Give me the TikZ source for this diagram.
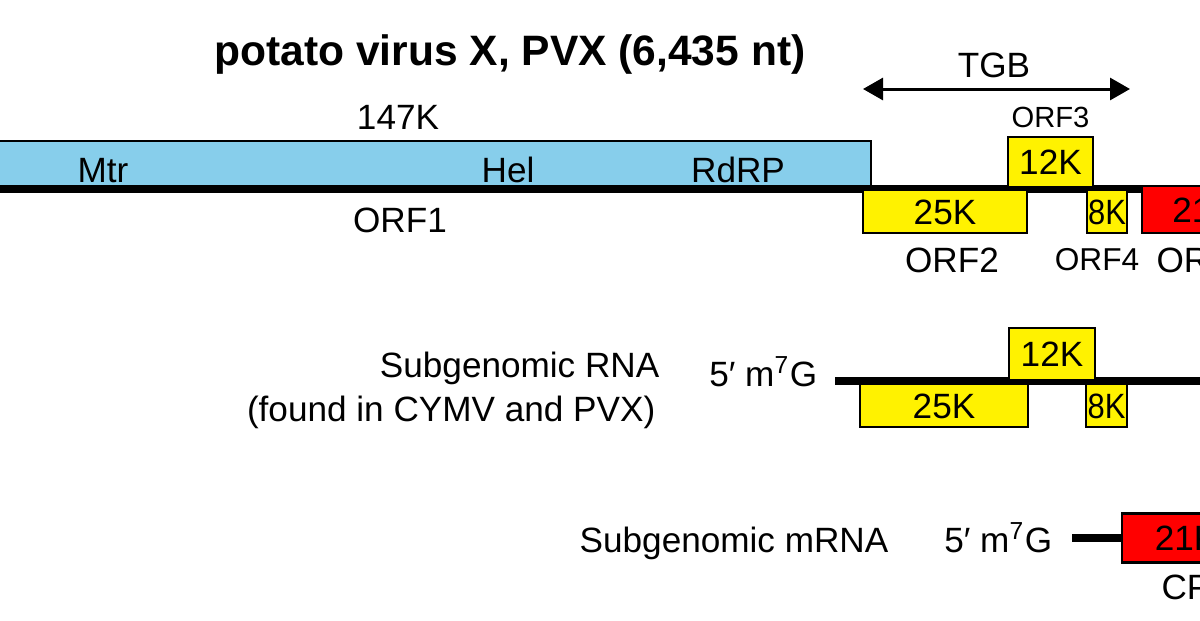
\documentclass[tikz,border=0pt]{standalone}
\usepackage{fontspec}
\setmainfont{Liberation Sans}
\usetikzlibrary{arrows.meta,positioning}
\definecolor{mtrblue}{RGB}{135,206,235}
\tikzstyle{lbl} = [inner sep=0pt, font=\fontsize{10}{12}\selectfont, text height=2.5mm, text depth=0pt]
\tikzstyle{orfbox} = [lbl, draw=black, line width=0.25mm, rectangle, inner sep=0pt]
\tikzstyle{tgbbox} = [orfbox, fill=yellow]
\tikzstyle{cpbox} = [orfbox, fill=red]
\tikzstyle{rnaline} = [line width=0.75mm]
\tikzstyle{tgbarrow} = [line width=0.3mm, {Triangle[length=2mm, width=2.2mm]}-{Triangle[length=2mm, width=2.2mm]}]

\begin{document}
\begin{tikzpicture}[x=0.1mm, y=-0.1mm]
\useasboundingbox (0,0) rectangle (1200,620);
\node[lbl, font=\bfseries\fontsize{12.1}{14}\selectfont, text height=3.05mm] (title) at (510,50) {potato virus X, PVX (6,435 nt)};

% genomic RNA
\coordinate (g5) at (-20,189);
\coordinate (g3) at (1220,189);
\draw[rnaline] (g5) -- (g3);
\node[orfbox, fill=mtrblue, minimum width=89.1mm, minimum height=4.5mm] (orf1) at (425.5,163.5) {};
\node[lbl] (mtr) at (103,170) {Mtr};
\node[lbl] (hel) at (508,170) {Hel};
\node[lbl] (rdrp) at (738,170) {RdRP};
\node[lbl] (p147) at (398,117) {147K};
\node[lbl] (orf1lbl) at (400,220) {ORF1};
\node[tgbbox, minimum width=16.4mm, minimum height=4.3mm] (orf2) at (945,211.5) {25K};
\node[tgbbox, minimum width=8.5mm, minimum height=5mm] (orf3) at (1050.5,162) {12K};
\node[tgbbox, minimum width=4mm, minimum height=4.3mm] (orf4) at (1107,211.5) {\scalebox{0.88}[1]{8K}};
\node[cpbox, minimum width=12.3mm, minimum height=4.7mm] (orf5) at (1203.5,209.5) {21K};
\node[lbl, below=1.25mm of orf2, xshift=0.7mm] (orf2lbl) {ORF2};
\node[lbl, font=\fontsize{8.3}{10}\selectfont, text height=2.1mm, above=0.8mm of orf3] (orf3lbl) {ORF3};
\node[lbl, font=\fontsize{9}{11}\selectfont, text height=2.25mm, below=1.35mm of orf4, xshift=-1mm] (orf4lbl) {ORF4};
\node[lbl, below=1.25mm of orf5] (orf5lbl) {ORF5};
\coordinate (tgbL) at (863,89);
\coordinate (tgbR) at (1130,89);
\draw[tgbarrow] (tgbL) -- (tgbR);
\node[lbl] (tgb) at (994,65) {TGB};

% subgenomic RNA (TGB)
\node[lbl, anchor=east] (sg1a) at (660,365) {Subgenomic RNA};
\node[lbl, anchor=east] (sg1b) at (656,409) {(found in CYMV and PVX)};
\node[lbl, anchor=east] (cap1) at (818,374) {5′ m\textsuperscript{7}G};
\coordinate (s1a) at (835,381);
\coordinate (s1b) at (1220,381);
\draw[rnaline] (s1a) -- (s1b);
\node[tgbbox, minimum width=16.8mm, minimum height=4.3mm] (sg25) at (944,405.5) {25K};
\node[tgbbox, minimum width=8.6mm, minimum height=5.2mm] (sg12) at (1052,354) {12K};
\node[tgbbox, minimum width=4.1mm, minimum height=4.3mm] (sg8) at (1106.5,405.5) {\scalebox{0.88}[1]{8K}};

% subgenomic mRNA (CP)
\node[lbl] (sg2) at (734,540) {Subgenomic mRNA};
\node[lbl, anchor=east] (cap2) at (1053,540) {5′ m\textsuperscript{7}G};
\node[cpbox, minimum width=12.8mm, minimum height=4.9mm] (sg21) at (1186,538) {21K};
\coordinate (s2a) at (1072,538);
\draw[rnaline] (s2a) -- (sg21.west);
\node[lbl, below=1.05mm of sg21] (cplbl) {CP};
\end{tikzpicture}
\end{document}
